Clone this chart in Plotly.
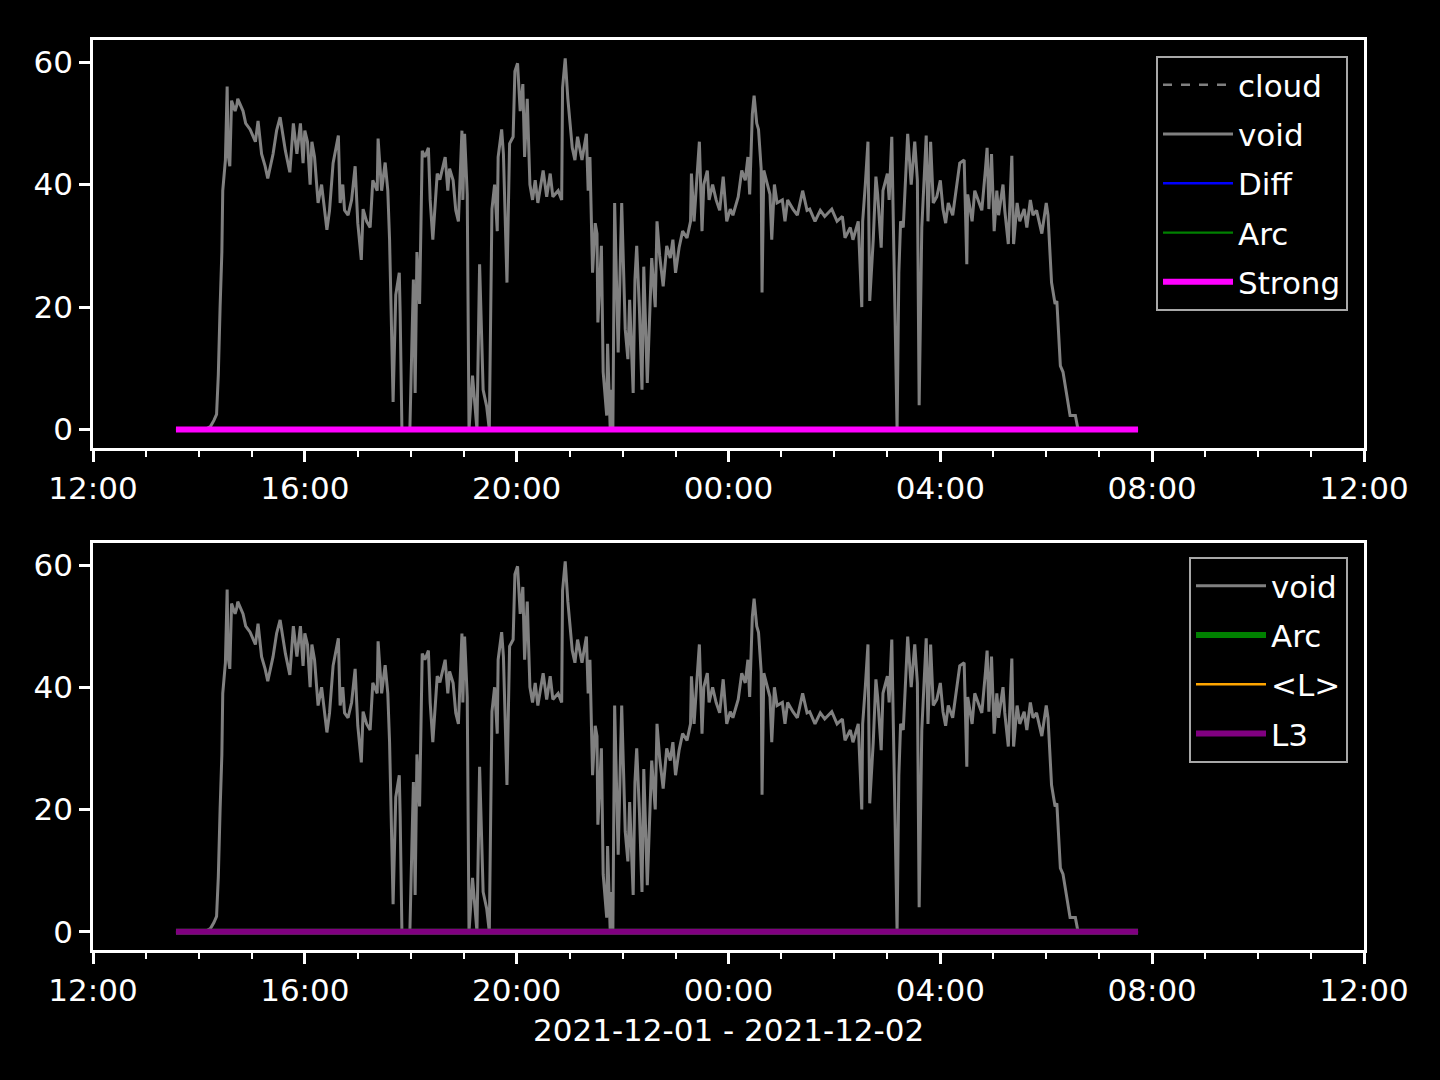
import pandas as pd
import plotly.graph_objects as go
from plotly.subplots import make_subplots

# ---- data -------------------------------------------------------------
start = pd.Timestamp("2021-12-01 12:00")

# void series: minutes after 2021-12-01 12:00, and values
void_minutes = [
    94, 110, 127, 133, 137, 140, 142, 144, 146, 147, 150, 152, 153, 155, 157, 161, 163, 164,
    170, 173, 178, 184, 187, 191, 195, 198, 204, 208, 212, 218, 223, 227, 231, 235, 238,
    240, 243, 246, 248, 251, 255, 259, 265, 268, 272, 278, 280, 283, 285, 289, 293, 297,
    300, 304, 306, 310, 314, 317, 322, 323, 327, 331, 334, 336, 340, 343, 347, 348, 350,
    356, 359, 363, 365, 367, 370, 373, 376, 380, 382, 385, 390, 393, 399, 402, 404, 408,
    411, 414, 418, 419, 421, 424, 426, 430, 435, 438, 442, 446, 449, 452, 455, 458, 459,
    463, 465, 469, 472, 476, 478, 481, 484, 487, 489, 492, 495, 498, 501, 504, 510, 514,
    518, 521, 527, 531, 532, 535, 538, 543, 546, 549, 554, 559, 561, 563, 566, 569, 571,
    572, 576, 578, 582, 583, 586, 588, 589, 591, 595, 599, 603, 606, 608, 612, 614, 616,
    619, 622, 624, 628, 631, 633, 637, 639, 642, 646, 650, 654, 657, 660, 664, 668, 673,
    677, 678, 681, 684, 687, 690, 692, 696, 698, 702, 706, 710, 714, 718, 722, 725, 731,
    735, 739, 742, 744, 747, 749, 752, 754, 757, 758, 760, 764, 767, 769, 772, 775, 781,
    784, 787, 793, 798, 801, 804, 809, 812, 818, 824, 829, 837, 843, 849, 852, 858, 861,
    867, 871, 872, 875, 878, 880, 884, 887, 889, 893, 895, 900, 902, 905, 907, 911, 913,
    915, 918, 921, 923, 927, 931, 934, 936, 939, 944, 946, 949, 952, 956, 960, 963, 966,
    969, 974, 979, 982, 987, 990, 991, 996, 999, 1003, 1007, 1011, 1013, 1015, 1018, 1021,
    1024, 1026, 1031, 1033, 1037, 1041, 1043, 1047, 1050, 1055, 1058, 1062, 1065, 1069,
    1075, 1080, 1082, 1086, 1090, 1092, 1096, 1099, 1103, 1107, 1113, 1116, 1141, 1184,
]
void_values = [
    0, 0, 0, 0.5, 1.5, 2.5, 9, 20, 29, 39, 44, 56, 45, 43, 53.7, 52, 53, 54,
    52, 50, 49, 47, 50.4, 45, 43, 41, 45, 48.8, 51, 45.5, 42, 50, 45, 50, 43.5,
    48.8, 47, 40, 47, 44.5, 37, 40, 32.6, 35.8, 43.5, 48, 37, 40, 35.8, 35, 37.5, 43,
    33.7, 27.7, 36, 34, 33, 40.7, 39, 47.5, 39, 43.6, 39, 31, 4.5, 22, 25.6, 19, 0,
    0, 0, 24.5, 6, 29, 20.5, 45.5, 44.5, 46, 37.5, 31, 41.8, 40.8, 44.5, 39, 42.6, 40.7,
    35.8, 34, 48.8, 37.5, 48.3, 38.4, 0, 8.8, 0, 27, 6.5, 3.8, 0, 36, 40, 32.4, 44.5,
    49, 45, 24, 46.7, 47.8, 58.5, 59.8, 52, 56.4, 44.5, 54, 40, 37.5, 40.7, 37, 42.3, 38,
    41.8, 38, 39, 37.5, 55.8, 60.6, 54, 46, 44, 47.8, 44, 48.3, 39, 44.5, 25.6, 33.7, 32,
    17.5, 30, 9.4, 2.3, 14, 0, 6.5, 0, 37, 12.6, 37, 16.4, 11.5, 21.2, 6, 24.5, 30,
    20, 6.5, 26.6, 7.6, 19, 28, 20, 34, 28.4, 23.4, 30, 28, 31, 25.6, 29.7, 32.4, 31.3,
    34, 41.8, 34, 40.7, 47, 32.4, 40, 42.3, 37.5, 40, 37.5, 35.8, 41.3, 34, 36, 35, 38,
    42.3, 40.7, 44.5, 38.4, 51.5, 54.5, 50, 49, 42.6, 22.4, 42.3, 40, 38.4, 31, 40, 37, 37.5,
    34, 37.5, 36, 35, 37, 39, 35.8, 36, 34, 35.8, 34.8, 36, 34, 34.8, 31.3, 33, 31,
    34, 20, 34, 40, 47, 21, 31, 41.3, 38.4, 29.7, 39, 41.8, 37.5, 47.8, 31, 0, 25.6,
    34, 33, 41.8, 48.3, 40, 47, 40.7, 4, 33, 48, 34, 47, 37, 38, 40.7, 36, 33.7,
    37, 35, 40, 43.5, 44, 27, 38.4, 34, 39, 37.5, 35.8, 42.3, 46, 36, 45, 32.4,
    39, 35, 40, 35.8, 30.3, 44.7, 30.3, 37, 34, 36, 33, 37.5, 35, 35.8,
    32, 37, 35, 24, 20.5, 21, 10.4, 9.4, 5.5, 2.3, 2.3, 0, 0, 0,
]

# flat series (all zero over the measured span)
flat_minutes = [94, 1184]
cloud_values = [0, 0]
diff_values = [0, 0]
arc_values = [0, 0]
strong_values = [0, 0]
meanL_values = [0, 0]
l3_values = [0, 0]

y_ticks = [0, 20, 40, 60]
x_label = "2021-12-01 - 2021-12-02"

# ---- build ------------------------------------------------------------
void_t = [start + pd.Timedelta(minutes=m) for m in void_minutes]
flat_t = [start + pd.Timedelta(minutes=m) for m in flat_minutes]

FONT = "DejaVu Sans"
FS = 31
W, H = 1440, 1080
L, R, T, B = 93, 76, 40, 130
ph = H - T - B

fig = make_subplots(rows=2, cols=1, shared_xaxes=False, vertical_spacing=0.1)

GREY = "#808080"
# top panel
fig.add_trace(go.Scatter(x=flat_t, y=cloud_values, mode="lines", name="cloud",
                         line=dict(color=GREY, width=2.5, dash="dash"),
                         legend="legend", legendgroup="a1"), row=1, col=1)
fig.add_trace(go.Scatter(x=void_t, y=void_values, mode="lines", name="void",
                         line=dict(color=GREY, width=3),
                         legend="legend", legendgroup="a2"), row=1, col=1)
fig.add_trace(go.Scatter(x=flat_t, y=diff_values, mode="lines", name="Diff",
                         line=dict(color="#0000ff", width=2.3),
                         legend="legend", legendgroup="a3"), row=1, col=1)
fig.add_trace(go.Scatter(x=flat_t, y=arc_values, mode="lines", name="Arc",
                         line=dict(color="#008000", width=2.3),
                         legend="legend", legendgroup="a4"), row=1, col=1)
fig.add_trace(go.Scatter(x=flat_t, y=strong_values, mode="lines", name="Strong",
                         line=dict(color="#ff00ff", width=6),
                         legend="legend", legendgroup="a5"), row=1, col=1)

# bottom panel
fig.add_trace(go.Scatter(x=void_t, y=void_values, mode="lines", name="void",
                         line=dict(color=GREY, width=3),
                         legend="legend2", legendgroup="b1"), row=2, col=1)
fig.add_trace(go.Scatter(x=flat_t, y=arc_values, mode="lines", name="Arc",
                         line=dict(color="#008000", width=6),
                         legend="legend2", legendgroup="b2"), row=2, col=1)
fig.add_trace(go.Scatter(x=flat_t, y=meanL_values, mode="lines", name="<L>",
                         line=dict(color="#ffa500", width=2.5),
                         legend="legend2", legendgroup="b3"), row=2, col=1)
fig.add_trace(go.Scatter(x=flat_t, y=l3_values, mode="lines", name="L3",
                         line=dict(color="#800080", width=6),
                         legend="legend2", legendgroup="b4"), row=2, col=1)

top_dom = [(H - B - 448) / ph, 1.0]
bot_dom = [0.0, (H - B - 543) / ph]

xcommon = dict(
    type="date",
    range=[start, start + pd.Timedelta(hours=24)],
    tick0=start, dtick=4 * 3600 * 1000, tickformat="%H:%M",
    ticks="outside", ticklen=11, tickwidth=2.5, tickcolor="white",
    minor=dict(dtick=3600 * 1000, ticks="outside", ticklen=6, tickwidth=2, tickcolor="white"),
    showline=True, linecolor="white", linewidth=2.5, mirror=True,
    showgrid=False, zeroline=False,
    tickfont=dict(family=FONT, size=FS, color="white"),
)
ycommon = dict(
    range=[-3.0, 63.6], tickvals=y_ticks,
    ticks="outside", ticklen=11, tickwidth=2.5, tickcolor="white",
    showline=True, linecolor="white", linewidth=2.5, mirror=True,
    showgrid=False, zeroline=False,
    tickfont=dict(family=FONT, size=FS, color="white"),
)

legend_common = dict(
    xanchor="right", yanchor="top",
    bgcolor="black", bordercolor="#a8a8a8", borderwidth=2,
    font=dict(family=FONT, size=FS, color="white"),
    tracegroupgap=6, traceorder="grouped", itemwidth=70,
)

fig.update_layout(
    width=W, height=H,
    margin=dict(l=L, r=R, t=T, b=B),
    paper_bgcolor="black", plot_bgcolor="black",
    font=dict(family=FONT, size=FS, color="white"),
    xaxis=dict(xcommon, domain=[0, 1], anchor="y"),
    xaxis2=dict(xcommon, domain=[0, 1], anchor="y2"),
    yaxis=dict(ycommon, domain=top_dom, anchor="x"),
    yaxis2=dict(ycommon, domain=bot_dom, anchor="x2"),
    legend=dict(legend_common, x=(1348 - L) / (W - L - R), y=(H - B - 56) / ph),
    legend2=dict(legend_common, x=(1348 - L) / (W - L - R), y=(H - B - 557) / ph),
    annotations=[dict(
        text=x_label, xref="paper", yref="paper",
        x=(728 - L) / (W - L - R), y=(H - B - 1030) / ph,
        xanchor="center", yanchor="middle", showarrow=False,
        font=dict(family=FONT, size=FS, color="white"),
    )],
)

fig.write_html(
    "out.html",
    config={"displayModeBar": False},
    post_script="document.body.style.margin='0';document.body.style.background='black';"
                "document.body.style.overflow='hidden';",
)
